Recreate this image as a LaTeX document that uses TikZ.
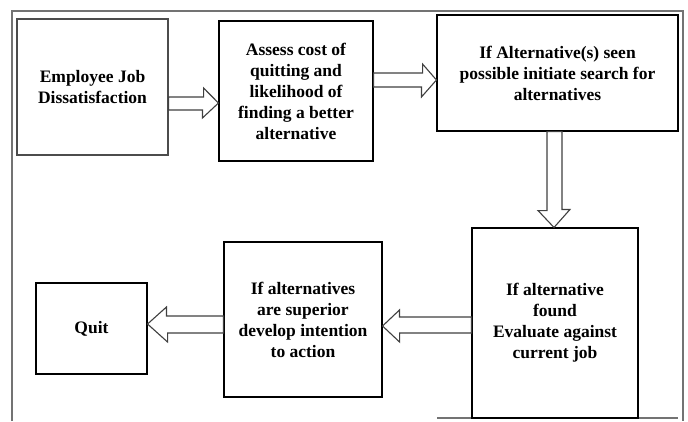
\documentclass[tikz,border=0pt]{standalone}
\usepackage{fontspec}
\setmainfont{Liberation Serif}
\usepackage{tikz}

\begin{document}
\begin{tikzpicture}[x=1pt, y=-1pt,
    box/.style={draw, line width=1.1pt, align=center, inner sep=0pt,
        font=\bfseries\fontsize{17.5}{21}\selectfont},
    blockarr/.style={draw=black!75, line width=1.1pt, fill=white, line join=miter}]
    \useasboundingbox (0,0) rectangle (688,421);

    % outer frame
    \draw[black!55, line width=1.3pt] (12,421) -- (12,11) -- (683,11) -- (683,421);
    \draw[black!55, line width=1.3pt] (437,418) -- (678,418);

    \node[box, draw=black!70, minimum width=151pt, minimum height=136pt] (dissat) at (92.5,87) {Employee Job\\Dissatisfaction};
    \node[box, minimum width=154pt, minimum height=140pt] (assess) at (296,91) {Assess cost of\\quitting and\\likelihood of\\finding a better\\alternative};
    \node[box, minimum width=241pt, minimum height=116pt] (search) at (557.5,73) {If Alternative(s) seen\\possible initiate search for\\alternatives};
    \node[box, minimum width=166pt, minimum height=190pt] (evaluate) at (555,323) {If alternative\\found\\Evaluate against\\current job};
    \node[box, minimum width=158pt, minimum height=155pt] (intent) at (303,319.5) {If alternatives\\are superior\\develop intention\\to action};
    \node[box, minimum width=111pt, minimum height=91pt] (quit) at (91.5,328.5) {Quit};

    % block arrows
    \draw[blockarr] (dissat.east |- 0,97) -- ++(35,0) -- ++(0,-9) -- (assess.west |- 0,103) -- ++(-16,15) -- ++(0,-8) -- (dissat.east |- 0,110) -- cycle;
    \draw[blockarr] (assess.east |- 0,73) -- ++(49,0) -- ++(0,-9) -- (search.west |- 0,80) -- ++(-15,17) -- ++(0,-10) -- (assess.east |- 0,87) -- cycle;
    \draw[blockarr] (search.south -| 547,0) -- ++(0,79) -- ++(-9,0) -- (evaluate.north -| 554,0) -- ++(16,-18) -- ++(-8,0) -- (search.south -| 562,0) -- cycle;
    \draw[blockarr] (evaluate.west |- 0,317) -- ++(-72,0) -- ++(0,-7) -- (intent.east |- 0,326) -- ++(17,16) -- ++(0,-9) -- (evaluate.west |- 0,333) -- cycle;
    \draw[blockarr] (intent.west |- 0,316) -- ++(-57,0) -- ++(0,-9) -- (quit.east |- 0,324) -- ++(20,18) -- ++(0,-9) -- (intent.west |- 0,333) -- cycle;
\end{tikzpicture}
\end{document}
